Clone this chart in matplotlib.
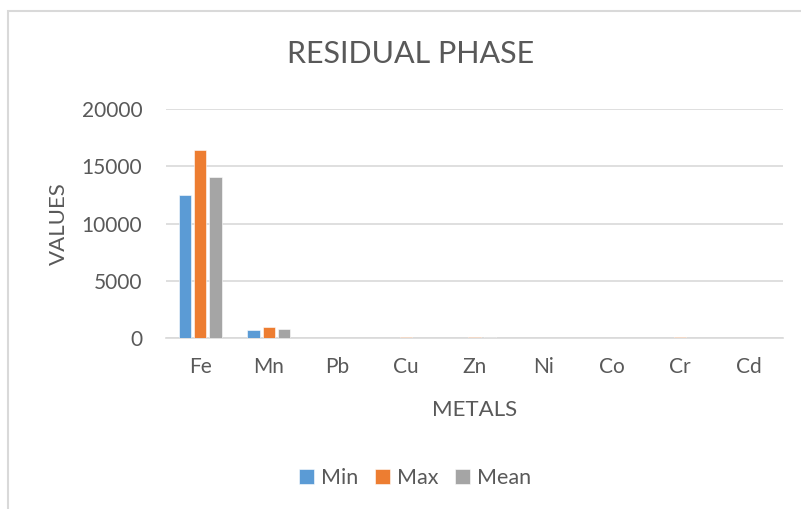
import numpy as np
import matplotlib
matplotlib.use("Agg")
import matplotlib.pyplot as plt
from matplotlib.patches import Rectangle

# residual phase concentrations per metal
metals = ["Fe", "Mn", "Pb", "Cu", "Zn", "Ni", "Co", "Cr", "Cd"]
min_vals = [12470, 700, 8, 20, 35, 12, 6, 30, 0.5]
max_vals = [16380, 940, 15, 45, 70, 22, 12, 60, 1.2]
mean_vals = [14070, 820, 11, 30, 50, 16, 9, 42, 0.8]

series_names = ["Min", "Max", "Mean"]
colors = ["#5B9BD5", "#ED7D31", "#A5A5A5"]
text_color = "#595959"
grid_color = "#D9D9D9"

plt.rcParams["font.family"] = ["Lato", "DejaVu Sans"]

W, H = 801, 509
fig = plt.figure(figsize=(W / 100, H / 100), dpi=100)

# chart frame (runs off the right and bottom edges)
fig.patches.append(Rectangle((8 / W, -0.1), 1.1, 1.1 - 11 / H, transform=fig.transFigure,
                             fill=False, edgecolor=grid_color, linewidth=1.5))

left, right, top, bottom = 166, 783, 109, 338
ax = fig.add_axes([left / W, 1 - bottom / H, (right - left) / W, (bottom - top) / H])

x = np.arange(len(metals))
width = 0.18
step = 0.222
for i, (name, vals, c) in enumerate(zip(series_names, [min_vals, max_vals, mean_vals], colors)):
    ax.bar(x + (i - 1) * step, vals, width, color=c, label=name, zorder=3,
           edgecolor="white", linewidth=0.4)

ax.set_xlim(-0.5, len(metals) - 0.5)
ax.set_ylim(0, 20000)
ax.set_yticks(np.arange(0, 20001, 5000))
ax.set_xticks(x)
ax.set_xticklabels(metals)
ax.tick_params(axis="both", length=0, labelsize=15, colors=text_color)
ax.tick_params(axis="x", pad=14)
ax.tick_params(axis="y", pad=17)
ax.grid(axis="y", color=grid_color, linewidth=1.2, zorder=0)
for s in ["top", "right", "left"]:
    ax.spines[s].set_visible(False)
ax.spines["bottom"].set_color(grid_color)
ax.spines["bottom"].set_linewidth(1.2)

fig.text(411 / W, 1 - 54 / H, "RESIDUAL PHASE", ha="center", va="center",
         fontsize=22, color=text_color)
fig.text(59 / W, 1 - 224 / H, "VALUES", ha="center", va="center", rotation=90,
         fontsize=16, color=text_color)
fig.text(475 / W, 1 - 410 / H, "METALS", ha="center", va="center",
         fontsize=16, color=text_color)

handles, labels = ax.get_legend_handles_labels()
fig.legend(handles, labels, loc="center", bbox_to_anchor=(415 / W, 1 - 478 / H), ncol=3,
           frameon=False, fontsize=15.5, labelcolor=text_color, handlelength=0.7,
           handleheight=0.7, handletextpad=0.3, columnspacing=0.8)

fig.savefig("out.png", dpi=100)
